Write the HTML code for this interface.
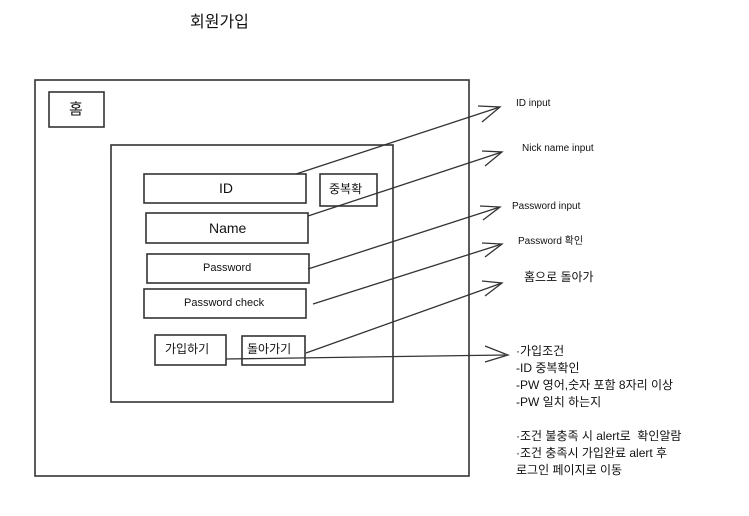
<!DOCTYPE html>
<html><head><meta charset="utf-8"><style>
body{margin:0;width:749px;height:516px;background:#fff;position:relative;overflow:hidden;font-family:"Liberation Sans","Noto Sans CJK KR",sans-serif;color:#111}
.t{position:absolute;white-space:nowrap;line-height:1}
</style></head><body>
<svg width="749" height="516" style="position:absolute;left:0;top:0" fill="none" stroke="#333" stroke-width="1.6">
<rect x="35" y="80" width="434" height="396"/>
<rect x="49" y="92" width="55" height="35"/>
<rect x="111" y="145" width="282" height="257"/>
<rect x="144" y="174" width="162" height="29"/>
<rect x="320" y="174" width="57" height="32"/>
<rect x="146" y="213" width="162" height="30"/>
<rect x="147" y="254" width="162" height="29"/>
<rect x="144" y="289" width="162" height="29"/>
<rect x="155" y="335" width="71" height="30"/>
<rect x="242" y="336" width="63" height="29"/>
<g stroke-width="1.3">
<line x1="296" y1="174" x2="500" y2="107"/>
<polyline points="478,106 500,107 482,122"/>
<line x1="308" y1="216" x2="502" y2="152"/>
<polyline points="482,151 502,152 485,166"/>
<line x1="308" y1="269" x2="500" y2="207"/>
<polyline points="480,206 500,207 483,220"/>
<line x1="313" y1="304" x2="502" y2="244"/>
<polyline points="482,243 502,244 485,257"/>
<line x1="306" y1="353" x2="502" y2="283"/>
<polyline points="482,281 502,283 485,296"/>
<line x1="226" y1="359" x2="505" y2="355"/>
<polyline points="485,346 508,355 485,362"/>
</g>
</svg>
<div class="t" style="left:190px;top:15px;font-size:16px">회원가입</div>
<div class="t" style="left:69px;top:102px;font-size:15px">홈</div>
<div class="t" style="left:219px;top:181px;font-size:14px">ID</div>
<div class="t" style="left:329px;top:183px;font-size:12px">중복확</div>
<div class="t" style="left:209px;top:221px;font-size:14px">Name</div>
<div class="t" style="left:203px;top:263px;font-size:11px">Password</div>
<div class="t" style="left:184px;top:298px;font-size:11px">Password check</div>
<div class="t" style="left:165px;top:343px;font-size:12px">가입하기</div>
<div class="t" style="left:247px;top:343px;font-size:12px">돌아가기</div>
<div class="t" style="left:516px;top:99px;font-size:10px">ID input</div>
<div class="t" style="left:522px;top:144px;font-size:10px">Nick name input</div>
<div class="t" style="left:512px;top:202px;font-size:10px">Password input</div>
<div class="t" style="left:518px;top:237px;font-size:10px">Password 확인</div>
<div class="t" style="left:524px;top:271px;font-size:12px">홈으로 돌아가</div>
<div class="t" style="left:516px;top:343px;font-size:12px;line-height:17px">·가입조건<br>-ID 중복확인<br>-PW 영어,숫자 포함 8자리 이상<br>-PW 일치 하는지<br><br>·조건 불충족 시 alert로&nbsp; 확인알람<br>·조건 충족시 가입완료 alert 후<br>로그인 페이지로 이동</div>
</body></html>
